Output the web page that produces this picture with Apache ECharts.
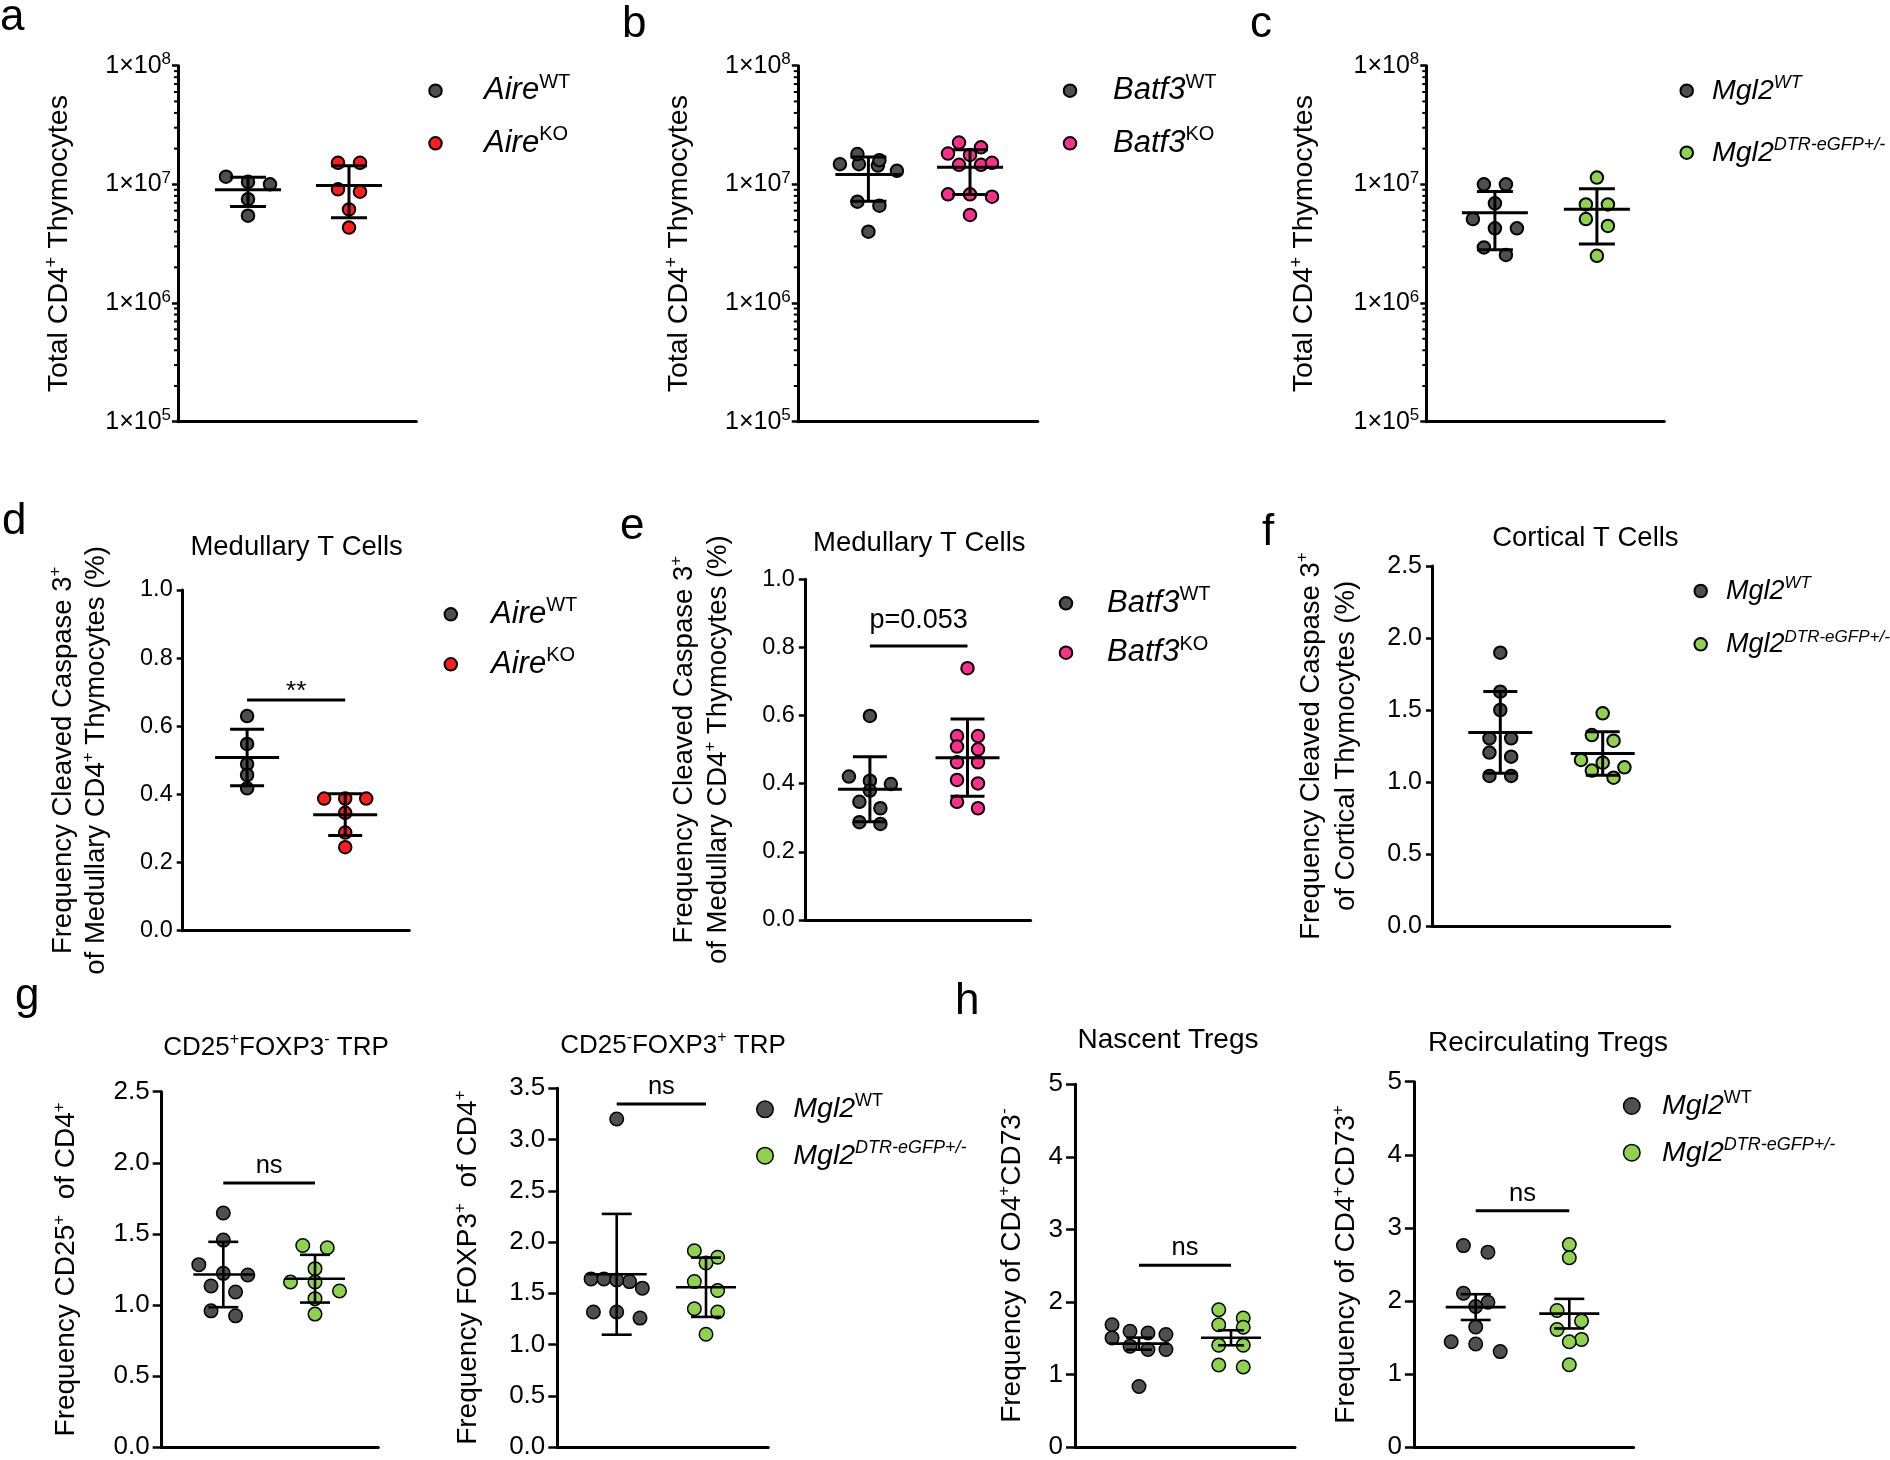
<!DOCTYPE html>
<html><head><meta charset="utf-8">
<script src="https://cdn.jsdelivr.net/npm/echarts/dist/echarts.min.js"></script>
<style>html,body{margin:0;padding:0;background:#fff}#c{width:1890px;height:1460px}</style>
</head><body><div id="c"></div>
<script>
// ---------------- DATA ----------------
const groupKeys = ['WT', 'KO'];
const logTickVals = [1e5, 1e6, 1e7, 1e8];
// a: Aire total CD4+ thymocytes
const aWT = [1.0e7, 1.16e7, 1.05e7, 7.5e6, 5.45e6];
const aKO = [1.52e7, 1.52e7, 8.67e6, 9.08e6, 6.15e6, 4.32e6];
// b: Batf3 total CD4+ thymocytes
const bWT = [1.44e7, 1.60e7, 1.48e7, 1.48e7, 1.80e7, 1.30e7, 6.61e6, 7.14e6, 3.99e6];
const bKO = [1.82e7, 1.77e7, 2.05e7, 2.25e7, 1.46e7, 1.46e7, 1.52e7, 7.87e6, 8.24e6, 8.24e6, 5.52e6];
// c: Mgl2 total CD4+ thymocytes
const cWT = [1.0e7, 1.0e7, 6.92e6, 5.10e6, 4.26e6, 4.26e6, 2.94e6, 2.54e6];
const cKO = [1.14e7, 6.78e6, 6.78e6, 5.10e6, 4.46e6, 2.50e6];
// d: Aire medullary cleaved caspase 3
const dWT = [0.630, 0.548, 0.489, 0.457, 0.418];
const dKO = [0.388, 0.388, 0.388, 0.346, 0.288, 0.245];
// e: Batf3 medullary cleaved caspase 3
const eWT = [0.599, 0.421, 0.409, 0.399, 0.380, 0.347, 0.328, 0.282, 0.287];
const eKO = [0.739, 0.540, 0.540, 0.501, 0.509, 0.463, 0.463, 0.401, 0.411, 0.328, 0.347];
// f: Mgl2 cortical cleaved caspase 3
const fWT = [1.898, 1.627, 1.500, 1.303, 1.303, 1.176, 1.204, 1.042, 1.042];
const fKO = [1.477, 1.326, 1.287, 1.134, 1.102, 1.153, 1.030, 1.079];
// g: TRP
const g1WT = [1.647, 1.456, 1.283, 1.222, 1.210, 1.133, 1.091, 0.958, 0.923];
const g1KO = [1.418, 1.402, 1.255, 1.161, 1.161, 1.098, 1.044, 0.935];
const g2WT = [3.20, 1.640, 1.640, 1.614, 1.630, 1.550, 1.258, 1.317, 1.317];
const g2KO = [1.915, 1.851, 1.796, 1.614, 1.527, 1.349, 1.317, 1.100];
// h: Tregs
const h1WT = [1.686, 1.504, 1.572, 1.595, 1.550, 1.390, 1.345, 1.345, 0.834];
const h1KO = [1.892, 1.778, 1.686, 1.650, 1.404, 1.404, 1.103, 1.130];
const h2WT = [2.757, 2.667, 2.104, 1.982, 1.923, 1.644, 1.441, 1.410, 1.306];
const h2KO = [2.770, 2.590, 1.869, 1.725, 1.608, 1.473, 1.441, 1.126];
// significance bars [y value, label]
const dSig = [0.677, '**'];
const eSig = [0.804, 'p=0.053'];
const g1Sig = [1.857, 'ns'];
const g2Sig = [3.347, 'ns'];
const h1Sig = [2.507, 'ns'];
const h2Sig = [3.234, 'ns'];
// legend labels
const aireLabels = ['{i|Aire}{u|WT}', '{i|Aire}{u|KO}'];
const batfLabels = ['{i|Batf3}{u|WT}', '{i|Batf3}{u|KO}'];
const mglLabelsI = ['{i|Mgl2}{si|WT}', '{i|Mgl2}{si|DTR-eGFP+/-}'];
const mglLabelsU = ['{i|Mgl2}{u|WT}', '{i|Mgl2}{si|DTR-eGFP+/-}'];
// titles / axis names
const yNameTotal = 'Total CD4{s|+} Thymocytes';
const yNameMed = 'Frequency Cleaved Caspase 3{s|+}\nof Medullary CD4{s|+} Thymocytes (%)';
const yNameCort = 'Frequency Cleaved Caspase 3{s|+}\nof Cortical Thymocytes (%)';
const yNameG1 = 'Frequency CD25{s|+}  of CD4{s|+}';
const yNameG2 = 'Frequency FOXP3{s|+}  of CD4{s|+}';
const yNameH1 = 'Frequency of CD4{s|+}CD73{s|-}';
const yNameH2 = 'Frequency of CD4{s|+}CD73{s|+}';
const titleMed = 'Medullary T Cells';
const titleCort = 'Cortical T Cells';
const titleG1 = 'CD25{s|+}FOXP3{s|-} TRP';
const titleG2 = 'CD25{s|-}FOXP3{s|+} TRP';
const titleH1 = 'Nascent Tregs';
const titleH2 = 'Recirculating Tregs';
const panelLetters = ['a', 'b', 'c', 'd', 'e', 'f', 'g', 'h'];

// ---------------- STYLE ----------------
const FONT = '"Liberation Sans", Arial, Helvetica, sans-serif';
const GREY = '#4f4f4f', RED = '#ff1c1c', PINK = '#ff2d8c', GREEN = '#8fd24e';

function meanOf(a) { return a.reduce((s, v) => s + v, 0) / a.length; }
function sdOf(a) { const m = meanOf(a); return Math.sqrt(a.reduce((s, v) => s + (v - m) * (v - m), 0) / (a.length - 1)); }
function semOf(a) { return sdOf(a) / Math.sqrt(a.length); }

// beeswarm: rows of points closer than thresh px are spread symmetrically around the group centre
function swarmOffsets(vals, toPx, step, thresh, spread) {
  const order = vals.map((v, i) => i).sort((a, b) => vals[b] - vals[a]);
  const off = new Array(vals.length).fill(0);
  let i = 0;
  while (i < order.length) {
    const y0 = toPx(vals[order[i]]);
    let j = i + 1;
    while (j < order.length && Math.abs(toPx(vals[order[j]]) - y0) < thresh) j++;
    const row = order.slice(i, j);
    const s = row.length > 1 ? Math.min(step, spread / (row.length - 1)) : 0;
    row.forEach((idx, r) => { off[idx] = (r - (row.length - 1) / 2) * s; });
    i = j;
  }
  return off;
}

const option = {
  animation: false, backgroundColor: '#ffffff', textStyle: { fontFamily: FONT },
  grid: [], xAxis: [], yAxis: [], series: [], legend: [], title: []
};

function supRich(fs, italic) {
  return { fontSize: fs, verticalAlign: 'top', lineHeight: Math.round(fs * 0.95), fontFamily: FONT, color: '#000', fontStyle: italic ? 'italic' : 'normal' };
}

function addText(text, x, baseline, fs, align, sfs) {
  const LH = Math.round(fs * 1.25);
  option.title.push({
    text: text, left: x, top: baseline - 0.3465 * fs - LH / 2, padding: 0, textAlign: align || 'left',
    textStyle: { fontSize: fs, fontWeight: 'normal', lineHeight: LH, color: '#000', fontFamily: FONT,
      rich: { s: supRich(sfs || Math.round(fs * 0.6)) } }
  });
}

function addPanel(p) {
  const gi = option.grid.length;
  const W = p.R - p.L, H = p.B - p.T;
  const k = p.c2 - p.c1;
  const xmin = 1 - (p.c1 - p.L) / k, xmax = 2 + (p.R - p.c2) / k;
  option.grid.push({ left: p.L, top: p.T, width: W, height: H, containLabel: false });
  option.xAxis.push({
    type: 'value', gridIndex: gi, min: xmin, max: xmax,
    axisLine: { show: true, onZero: false, lineStyle: { color: '#000', width: 3 } },
    axisTick: { show: false }, axisLabel: { show: false }, splitLine: { show: false }
  });
  const y = {
    type: p.log ? 'log' : 'value', gridIndex: gi, min: p.ymin, max: p.ymax,
    axisLine: { show: true, onZero: false, lineStyle: { color: '#000', width: 3 } },
    axisTick: { show: true, inside: false, length: p.tickLen, lineStyle: { color: '#000', width: 2.5 } },
    axisLabel: {
      show: !p.log, margin: p.labelMargin, fontSize: p.tickFont, color: '#000', fontFamily: FONT,
      formatter: v => '{m|' + p.fmt(v) + '}',
      rich: { m: { fontSize: p.tickFont, lineHeight: p.tickFont + 4, fontFamily: FONT, color: '#000' } }
    },
    splitLine: { show: false }, minorTick: { show: false },
    name: p.name, nameLocation: 'middle', nameRotate: 90, nameGap: p.nameGap, nameMoveOverlap: false,
    nameTextStyle: { fontSize: p.nameFont, lineHeight: p.nameLH, color: '#000', fontFamily: FONT, align: 'center',
      rich: { s: supRich(Math.round(p.nameFont * 0.62)) } }
  };
  if (p.log) { y.logBase = 10; y.splitNumber = 3; } else { y.interval = p.interval; }
  option.yAxis.push(y);

  const toPx = p.log
    ? (v => H * (Math.log10(v) - Math.log10(p.ymin)) / (Math.log10(p.ymax) - Math.log10(p.ymin)))
    : (v => H * (v - p.ymin) / (p.ymax - p.ymin));
  const names = [p.id + groupKeys[0], p.id + groupKeys[1]];
  const colors = [GREY, p.koColor];
  const spread = p.spread || 2.2 * p.step;
  [p.wt, p.ko].forEach((vals, gIdx) => {
    const offs = swarmOffsets(vals, toPx, p.step, p.thresh, spread);
    option.series.push({
      type: 'scatter', name: names[gIdx], xAxisIndex: gi, yAxisIndex: gi, silent: true, z: 2,
      symbol: 'circle', symbolSize: p.ms,
      itemStyle: { color: colors[gIdx], borderColor: '#000', borderWidth: p.bw, opacity: 1 },
      data: vals.map((v, i) => [gIdx + 1 + offs[i] / k, v])
    });
  });
  const errFn = p.err === 'sem' ? semOf : sdOf;
  option.series.push({
    type: 'custom', xAxisIndex: gi, yAxisIndex: gi, silent: true, z: 5, encode: { x: 0, y: 1 },
    data: [[1, meanOf(p.wt), errFn(p.wt)], [2, meanOf(p.ko), errFn(p.ko)]],
    renderItem: (params, api) => {
      const x = api.value(0), m = api.value(1), e = api.value(2);
      const pm = api.coord([x, m]), pt = api.coord([x, m + e]), pb = api.coord([x, m - e]);
      const st = { stroke: '#000', lineWidth: p.lw };
      const ln = (x1, y1, x2, y2) => ({ type: 'line', shape: { x1, y1, x2, y2 }, style: st });
      return { type: 'group', children: [
        ln(pt[0], pt[1], pb[0], pb[1]),
        ln(pm[0] - p.mh, pm[1], pm[0] + p.mh, pm[1]),
        ln(pt[0] - p.ch, pt[1], pt[0] + p.ch, pt[1]),
        ln(pb[0] - p.ch, pb[1], pb[0] + p.ch, pb[1])
      ] };
    }
  });
  if (p.log) {
    // minor ticks at 2..9 x 10^n
    const minor = [];
    for (let ex = Math.round(Math.log10(p.ymin)); ex < Math.round(Math.log10(p.ymax)); ex++)
      for (let m = 2; m <= 9; m++) minor.push([xmin, m * Math.pow(10, ex)]);
    option.series.push({
      type: 'custom', xAxisIndex: gi, yAxisIndex: gi, silent: true, z: 4, encode: { x: 0, y: 1 }, data: minor,
      renderItem: (params, api) => {
        const c = api.coord([api.value(0), api.value(1)]);
        return { type: 'line', shape: { x1: c[0] - 4, y1: c[1], x2: c[0], y2: c[1] }, style: { stroke: '#000', lineWidth: 2 } };
      }
    });
    // decade labels 1x10^n
    option.series.push({
      type: 'custom', xAxisIndex: gi, yAxisIndex: gi, silent: true, z: 4, encode: { x: 0, y: 1 },
      data: logTickVals.map(v => [xmin, v]),
      renderItem: (params, api) => {
        const c = api.coord([api.value(0), api.value(1)]);
        const ex = Math.round(Math.log10(api.value(1)));
        return { type: 'text', x: c[0] - p.tickLen - p.labelMargin, y: c[1],
          style: { text: '{m|1×10}{s|' + ex + '}', align: 'right', verticalAlign: 'middle',
            rich: { m: { fontSize: p.tickFont, lineHeight: p.tickFont + 4, fontFamily: FONT, fill: '#000', color: '#000' },
                    s: Object.assign(supRich(p.supFont), { fill: '#000' }) } } };
      }
    });
  }
  if (p.sig) {
    option.series.push({
      type: 'custom', xAxisIndex: gi, yAxisIndex: gi, silent: true, z: 5, encode: { x: [0, 1], y: 2 },
      data: [[1, 2, p.sig[0]]],
      renderItem: (params, api) => {
        const a = api.coord([api.value(0), api.value(2)]), b = api.coord([api.value(1), api.value(2)]);
        return { type: 'group', children: [
          { type: 'line', shape: { x1: a[0], y1: a[1], x2: b[0], y2: b[1] }, style: { stroke: '#000', lineWidth: 3 } },
          { type: 'text', x: (a[0] + b[0]) / 2, y: a[1] - p.sigOff - 0.3465 * p.sigFont,
            style: { text: p.sig[1], fill: '#000', fontSize: p.sigFont, fontFamily: FONT, align: 'center', verticalAlign: 'middle' } }
        ] };
      }
    });
  }
  if (p.legend) {
    const lg = p.legend, LH = Math.round(lg.fs * 1.2);
    const IW = 2 * (lg.tx - lg.x - 5);
    const labels = {}; labels[names[0]] = lg.labels[0]; labels[names[1]] = lg.labels[1];
    option.legend.push({
      orient: 'vertical', left: lg.x - lg.ms / 2 - p.bw / 2, top: lg.y1 - LH / 2, padding: 0,
      itemWidth: IW, itemHeight: lg.ms, itemGap: (lg.y2 - lg.y1) - LH, selectedMode: false,
      icon: 'circle', data: names,
      itemStyle: { borderColor: '#000', borderWidth: p.bw },
      formatter: n => labels[n],
      textStyle: { fontSize: lg.fs, lineHeight: LH, color: '#000', fontFamily: FONT,
        rich: {
          i: { fontSize: lg.fs, lineHeight: LH, fontStyle: 'italic', fontFamily: FONT, color: '#000' },
          u: supRich(Math.round(lg.fs * 0.64)),
          si: supRich(Math.round(lg.fs * 0.64), true)
        } }
    });
  }
  if (p.title) addText(p.title, p.titleX, p.titleBase, p.titleFont, 'center');
}

const f1 = v => v.toFixed(1);
const f0 = v => String(Math.round(v));

const logBase = { log: true, ymin: 1e5, ymax: 1e8, tickFont: 25, supFont: 17, tickLen: 6, labelMargin: 1,
  nameFont: 28.5, nameLH: 32, ms: 12.5, bw: 2, thresh: 10, err: 'sd', mh: 33, ch: 18, lw: 3 };
const midBase = { log: false, fmt: f1, tickLen: 6, labelMargin: 10, nameFont: 27.5, ms: 12.5, bw: 2, thresh: 10,
  err: 'sd', mh: 32, ch: 17, lw: 3, titleFont: 27.5 };
const lowBase = { log: false, tickFont: 26, tickLen: 9, labelMargin: 12, nameFont: 28, nameLH: 32, ms: 13.5, bw: 1.5,
  thresh: 12, mh: 30, ch: 15, lw: 2.6, titleFont: 26, sigFont: 25.5, sigOff: 8, step: 24.5 };

addPanel(Object.assign({}, logBase, { id: 'a', L: 178, R: 416.4, T: 65.7, B: 421.7, c1: 248, c2: 349,
  wt: aWT, ko: aKO, koColor: RED, step: 22, name: yNameTotal, nameGap: 103,
  legend: { x: 435.5, y1: 90.7, y2: 143.3, tx: 484, fs: 31, ms: 12.5, labels: aireLabels } }));
addPanel(Object.assign({}, logBase, { id: 'b', L: 797.8, R: 1037.8, T: 65.7, B: 421.7, c1: 868.4, c2: 970,
  wt: bWT, ko: bKO, koColor: PINK, step: 22, spread: 57, name: yNameTotal, nameGap: 103,
  legend: { x: 1070, y1: 90.7, y2: 143.3, tx: 1113, fs: 31, ms: 12.5, labels: batfLabels } }));
addPanel(Object.assign({}, logBase, { id: 'c', L: 1426.3, R: 1664.3, T: 65.7, B: 421.7, c1: 1494.9, c2: 1596.9,
  wt: cWT, ko: cKO, koColor: GREEN, step: 22, name: yNameTotal, nameGap: 106,
  legend: { x: 1686.7, y1: 90.7, y2: 152.7, tx: 1712, fs: 28.5, ms: 12.5, labels: mglLabelsI } }));
addPanel(Object.assign({}, midBase, { id: 'd', L: 182.7, R: 409.3, T: 590, B: 930.7, c1: 247.1, c2: 345.2,
  ymin: 0, ymax: 1, interval: 0.2, tickFont: 23.5, wt: dWT, ko: dKO, koColor: RED, step: 21,
  name: yNameMed, nameLH: 33.6, nameGap: 69, sig: dSig, sigFont: 26, sigOff: -1,
  title: titleMed, titleX: 296.6, titleBase: 556.7,
  legend: { x: 450.8, y1: 614.3, y2: 664.3, tx: 491, fs: 31, ms: 12.5, labels: aireLabels } }));
addPanel(Object.assign({}, midBase, { id: 'e', L: 804.8, R: 1030.6, T: 579.3, B: 920, c1: 869.9, c2: 967.5,
  ymin: 0, ymax: 1, interval: 0.2, tickFont: 23.5, wt: eWT, ko: eKO, koColor: PINK, step: 21,
  name: yNameMed, nameLH: 33.6, nameGap: 69.6, sig: eSig, sigFont: 27, sigOff: 16,
  title: titleMed, titleX: 919.3, titleBase: 553.3,
  legend: { x: 1066, y1: 603.3, y2: 652.7, tx: 1107, fs: 31, ms: 12.5, labels: batfLabels } }));
addPanel(Object.assign({}, midBase, { id: 'f', L: 1432, R: 1669.8, T: 566, B: 926, c1: 1500.3, c2: 1602.7,
  ymin: 0, ymax: 2.5, interval: 0.5, tickFont: 25, wt: fWT, ko: fKO, koColor: GREEN, step: 21.7,
  name: yNameCort, nameLH: 35, nameGap: 68,
  title: titleCort, titleX: 1585.4, titleBase: 548.3,
  legend: { x: 1700.7, y1: 591, y2: 644.3, tx: 1726, fs: 27, ms: 12.5, labels: mglLabelsI } }));
addPanel(Object.assign({}, lowBase, { id: 'g1', L: 161.7, R: 378.3, T: 1091.7, B: 1448.3, c1: 223.3, c2: 315,
  ymin: 0, ymax: 2.5, interval: 0.5, fmt: f1, wt: g1WT, ko: g1KO, koColor: GREEN, err: 'sd',
  name: yNameG1, nameGap: 79, sig: g1Sig, title: titleG1, titleX: 276, titleBase: 1056.7 }));
addPanel(Object.assign({}, lowBase, { id: 'g2', L: 557.3, R: 768.3, T: 1088.3, B: 1449, c1: 616.7, c2: 706,
  ymin: 0, ymax: 3.5, interval: 0.5, fmt: f1, wt: g2WT, ko: g2KO, koColor: GREEN, err: 'sd', step: 23.3,
  name: yNameG2, nameGap: 73, sig: g2Sig, title: titleG2, titleX: 673, titleBase: 1055,
  legend: { x: 765, y1: 1109.3, y2: 1155.7, tx: 793.3, fs: 28.5, ms: 16.5, labels: mglLabelsU } }));
addPanel(Object.assign({}, lowBase, { id: 'h1', L: 1075, R: 1295, T: 1084.3, B: 1450, c1: 1139, c2: 1231,
  ymin: 0, ymax: 5, interval: 1, fmt: f0, wt: h1WT, ko: h1KO, koColor: GREEN, err: 'sem', ch: 13,
  name: yNameH1, nameGap: 47, sig: h1Sig, title: titleH1, titleX: 1168, titleBase: 1050, titleFont: 28 }));
addPanel(Object.assign({}, lowBase, { id: 'h2', L: 1413.9, R: 1633.6, T: 1081.7, B: 1451.7, c1: 1475.7, c2: 1569.3,
  ymin: 0, ymax: 5, interval: 1, fmt: f0, wt: h2WT, ko: h2KO, koColor: GREEN, err: 'sem', ch: 15,
  name: yNameH2, nameGap: 52, sig: h2Sig, title: titleH2, titleX: 1548, titleBase: 1052.7, titleFont: 28,
  legend: { x: 1631.8, y1: 1106, y2: 1152.7, tx: 1662, fs: 28.5, ms: 16.5, labels: mglLabelsU } }));

// panel letters
const letterPos = [[0, 33], [622, 40], [1250, 40], [2, 537], [620, 542], [1262, 548], [15, 1012], [955, 1017]];
panelLetters.forEach((t, i) => addText(t, letterPos[i][0], letterPos[i][1], 44, 'left'));

const chart = echarts.init(document.getElementById('c'), null, { renderer: 'canvas', width: 1890, height: 1460 });
chart.setOption(option);
</script></body></html>
